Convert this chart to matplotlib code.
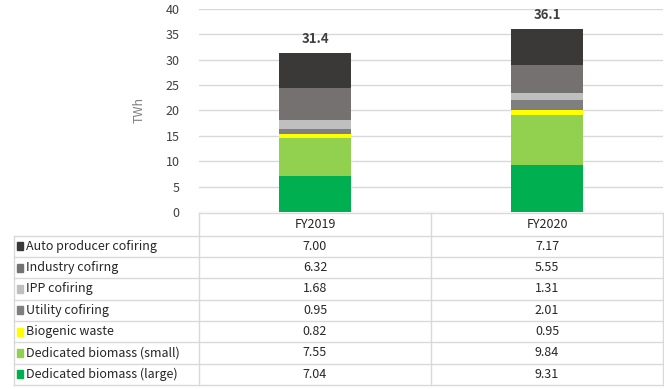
import matplotlib.pyplot as plt
from matplotlib.lines import Line2D
from matplotlib.patches import Rectangle

plt.rcParams["font.family"] = ["Noto Sans CJK JP", "DejaVu Sans"]

years = ["FY2019", "FY2020"]
series = [
    "Auto producer cofiring",
    "Industry cofirng",
    "IPP cofiring",
    "Utility cofiring",
    "Biogenic waste",
    "Dedicated biomass (small)",
    "Dedicated biomass (large)",
]
auto_producer = [7.00, 7.17]
industry = [6.32, 5.55]
ipp = [1.68, 1.31]
utility = [0.95, 2.01]
biogenic = [0.82, 0.95]
biomass_small = [7.55, 9.84]
biomass_large = [7.04, 9.31]

values = [auto_producer, industry, ipp, utility, biogenic, biomass_small, biomass_large]
colors = ["#3A3937", "#757171", "#BFBFBF", "#7F7F7F", "#FFFF00", "#92D050", "#00B050"]

W, H = 664, 389
fig = plt.figure(figsize=(W / 100, H / 100), dpi=100)

# plot area in pixels
x0, x1 = 199, 663
y_zero, y_top = 212, 9
ax = fig.add_axes([x0 / W, 1 - y_zero / H, (x1 - x0) / W, (y_zero - y_top) / H])

# stack from the bottom (large biomass) upward
bottom = [0, 0]
for name, vals, c in zip(reversed(series), reversed(values), reversed(colors)):
    ax.bar(range(len(years)), vals, bottom=bottom, width=0.31, color=c, zorder=3)
    bottom = [b + v for b, v in zip(bottom, vals)]

for i, tot in enumerate(bottom):
    ax.annotate(f"{tot:.1f}", (i, tot), xytext=(0, 5), textcoords="offset points",
                ha="center", va="bottom", fontsize=9.5, fontweight="bold", color="#404040")

ax.set_xlim(-0.5, 1.5)
ax.set_ylim(0, 40)
ax.set_yticks(range(0, 41, 5))
ax.tick_params(axis="y", length=0, labelsize=9, colors="#404040", pad=14)
ax.set_xticks([])
ax.grid(axis="y", color="#D9D9D9", linewidth=1, zorder=0)
for s in ax.spines.values():
    s.set_visible(False)
ax.set_ylabel("TWh", fontsize=9, color="#7F7F7F", labelpad=14)


# data table drawn in pixel coordinates
def fx(px):
    return px / W


def fy(py):
    return 1 - py / H


line_c = "#D9D9D9"
left = 14
col_edges = [199, 431, 663]
head_top = 212.5
row_top = 235.5
row_h = 21.35
n = len(series)

fig.add_artist(Line2D([fx(col_edges[0]), fx(col_edges[-1])], [fy(head_top)] * 2, color=line_c, lw=1))
for r in range(n + 1):
    yy = row_top + r * row_h
    fig.add_artist(Line2D([fx(left), fx(col_edges[-1])], [fy(yy)] * 2, color=line_c, lw=1))
bottom_px = row_top + n * row_h
fig.add_artist(Line2D([fx(left)] * 2, [fy(row_top), fy(bottom_px)], color=line_c, lw=1))
for xe in col_edges:
    fig.add_artist(Line2D([fx(xe)] * 2, [fy(head_top), fy(bottom_px)], color=line_c, lw=1))

for j, yr in enumerate(years):
    cx = (col_edges[j] + col_edges[j + 1]) / 2
    fig.text(fx(cx), fy((head_top + row_top) / 2), yr, ha="center", va="center",
             fontsize=9, color="#262626")

for r, (name, vals, c) in enumerate(zip(series, values, colors)):
    cy = row_top + (r + 0.5) * row_h
    fig.add_artist(Rectangle((fx(17), fy(cy + 4)), 6 / W, 8 / H, color=c,
                             transform=fig.transFigure))
    fig.text(fx(26), fy(cy), name, ha="left", va="center", fontsize=9, color="#262626")
    for j, v in enumerate(vals):
        cx = (col_edges[j] + col_edges[j + 1]) / 2
        fig.text(fx(cx), fy(cy), f"{v:.2f}", ha="center", va="center",
                 fontsize=9, color="#262626")

fig.savefig("out.png", dpi=100)
